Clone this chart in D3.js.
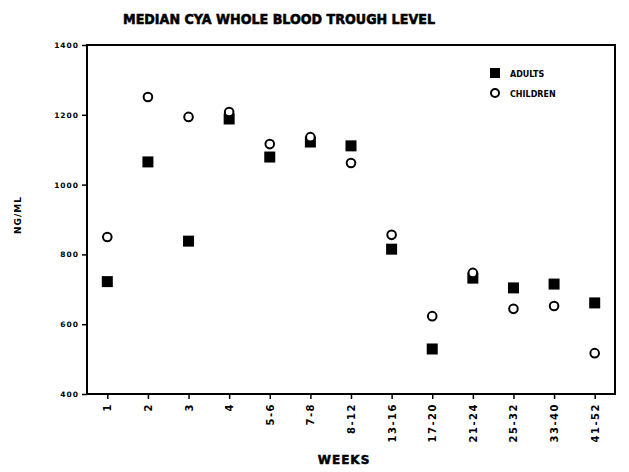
<!DOCTYPE html>
<html>
<head>
    <meta charset="utf-8">
    <title>Median CYA whole blood trough level</title>
    <script src="https://d3js.org/d3.v7.min.js"></script>
    <style>
        body { margin: 0; background: #fff; }
        svg text { font-family: "DejaVu Sans", sans-serif; font-weight: bold; fill: #000; }
    </style>
</head>
<body>
<svg id="chart" width="629" height="472"></svg>

<script>
    // Данные
    var weeks = ["1", "2", "3", "4", "5-6", "7-8", "8-12", "13-16", "17-20", "21-24", "25-32", "33-40", "41-52"];
    var adults = [722, 1065, 838, 1188, 1079, 1122, 1111, 815, 529, 732, 704, 715, 661];
    var children = [850, 1251, 1194, 1208, 1116, 1136, 1062, 856, 623, 747, 644, 652, 517];
    var yTicks = [400, 600, 800, 1000, 1200, 1400];

    var svg = d3.select("#chart");

    // границы области построения (top занят window.top)
    var plotLeft = 87, plotRight = 615, plotTop = 45, plotBottom = 394;

    var x = d3.scalePoint().domain(weeks).range([plotLeft, plotRight]).padding(0.5);
    var y = d3.scaleLinear().domain([400, 1400]).range([plotBottom, plotTop]);

    // Заголовок
    svg.append("text")
        .attr("x", 279).attr("y", 24)
        .attr("text-anchor", "middle")
        .attr("textLength", 312).attr("lengthAdjust", "spacingAndGlyphs")
        .style("font-size", "14px")
        .style("stroke", "#000").style("stroke-width", 0.6)
        .text("MEDIAN CYA WHOLE BLOOD TROUGH LEVEL");

    // Ось Y
    var yAxis = svg.append("g")
        .attr("transform", "translate(" + plotLeft + ",0)")
        .call(d3.axisLeft(y).tickValues(yTicks).tickSize(5).tickFormat(d3.format("d")));
    yAxis.select(".domain").remove();
    yAxis.selectAll("line").attr("stroke-width", 1.5);
    yAxis.selectAll("text")
        .attr("x", -8)
        .style("font-size", "7.5px")
        .style("letter-spacing", "1px");

    // Ось X
    var xAxis = svg.append("g")
        .attr("transform", "translate(0," + plotBottom + ")")
        .call(d3.axisBottom(x).tickSize(5));
    xAxis.select(".domain").remove();
    xAxis.selectAll("line").attr("stroke-width", 1.5);
    xAxis.selectAll("text")
        .attr("transform", "rotate(-90)")
        .attr("x", -9).attr("y", 0).attr("dy", "0.35em")
        .attr("text-anchor", "end")
        .style("font-size", "10px")
        .style("letter-spacing", "1.5px");

    // Рамка
    svg.append("rect")
        .attr("x", plotLeft).attr("y", plotTop)
        .attr("width", plotRight - plotLeft).attr("height", plotBottom - plotTop)
        .attr("fill", "none").attr("stroke", "#000").attr("stroke-width", 2);

    // Подписи осей
    svg.append("text")
        .attr("transform", "translate(21,215) rotate(-90)")
        .attr("text-anchor", "middle")
        .style("font-size", "9px")
        .style("letter-spacing", "1px")
        .text("NG/ML");

    svg.append("text")
        .attr("x", 344).attr("y", 464)
        .attr("text-anchor", "middle")
        .style("font-size", "12px")
        .style("letter-spacing", "1px")
        .style("stroke", "#000").style("stroke-width", 0.5)
        .text("WEEKS");

    // Взрослые — квадраты
    svg.append("g")
        .selectAll("rect")
        .data(adults)
        .enter().append("rect")
        .attr("x", function(d, i) { return x(weeks[i]) - 5.5; })
        .attr("y", function(d) { return y(d) - 5.5; })
        .attr("width", 11).attr("height", 11)
        .attr("fill", "#000");

    // Дети — круги
    svg.append("g")
        .selectAll("circle")
        .data(children)
        .enter().append("circle")
        .attr("cx", function(d, i) { return x(weeks[i]); })
        .attr("cy", function(d) { return y(d); })
        .attr("r", 4.3)
        .attr("fill", "#fff")
        .attr("stroke", "#000")
        .attr("stroke-width", 2);

    // Легенда
    var legend = svg.append("g");
    legend.append("rect")
        .attr("x", 490).attr("y", 68).attr("width", 10).attr("height", 10)
        .attr("fill", "#000");
    legend.append("text")
        .attr("x", 510).attr("y", 76.5)
        .style("font-size", "8px")
        .text("ADULTS");
    legend.append("circle")
        .attr("cx", 495).attr("cy", 93).attr("r", 4)
        .attr("fill", "#fff").attr("stroke", "#000").attr("stroke-width", 2);
    legend.append("text")
        .attr("x", 510).attr("y", 96.5)
        .style("font-size", "8px")
        .text("CHILDREN");
</script>
</body>
</html>
